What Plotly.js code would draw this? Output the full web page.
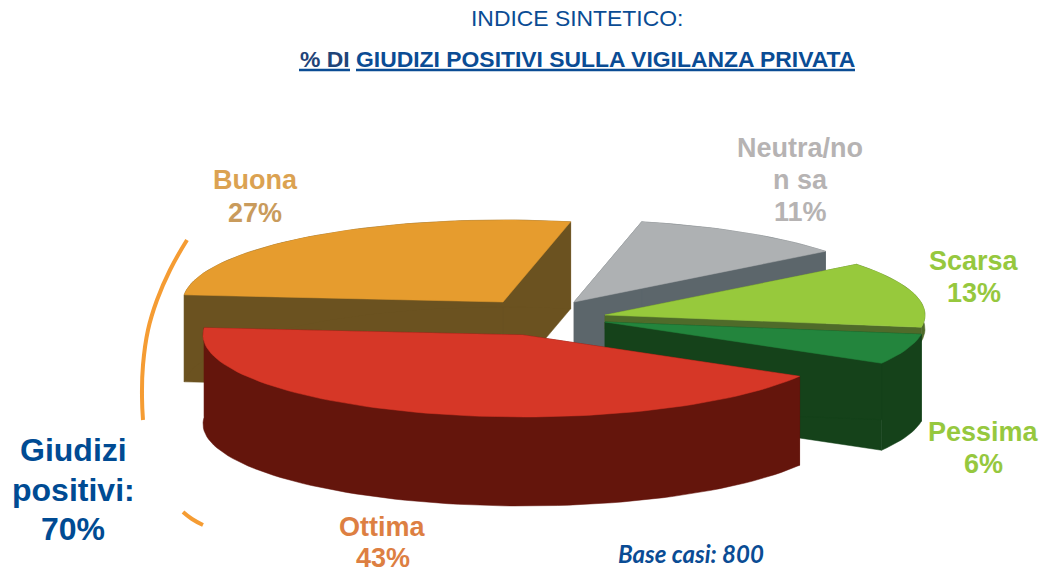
<!DOCTYPE html>
<html><head><meta charset="utf-8">
<script src="https://cdn.plot.ly/plotly-3.0.1.min.js"></script>
<style>html,body{margin:0;padding:0;background:#fff}#c{width:1050px;height:568px}</style>
</head><body><div id="c"></div>
<script>
// Data, in reading order around the pie
const categories = ['Ottima','Pessima','Scarsa','Neutra/non sa','Buona'];
const values     = [43, 6, 13, 11, 27];

// Styles
const topColors  = ['#d63727','#23853d','#97c93c','#aeb1b3','#e69c2e'];
const sideColors = ['#64150c','#15421a','#4f6b2a','#5c666b','#6b5220'];
const drawOrder  = [3, 4, 2, 1, 0];

// Exploded tip of each slice, on pixel-scaled hidden axes
const tipX = [523, 605, 605, 574, 503];
const tipY = [335, 322, 315, 302, 302];
const depths = [89, 87, 14, 87, 87];
const radiusX = 320, radiusY = 82, startAngle = 175;

// Each slice starts where the previous one ended
const starts = [];
values.reduce((acc, v, i) => { starts[i] = acc; return acc + v * 3.6; }, startAngle);

function arcPoints(i) {
  const pts = [], a0 = starts[i], sweep = values[i] * 3.6, n = Math.ceil(sweep / 2);
  for (let k = 0; k <= n; k++) {
    const a = (a0 + sweep * k / n) * Math.PI / 180;
    pts.push([tipX[i] + radiusX * Math.cos(a), tipY[i] - radiusY * Math.sin(a)]);
  }
  return pts;
}

const traces = [];
function addPoly(pts, color, name) {
  const closed = pts.concat([pts[0]]);
  traces.push({type:'scatter', mode:'lines', x:closed.map(p=>p[0]), y:closed.map(p=>p[1]), fill:'toself',
    fillcolor:color, line:{color:color, width:0.5}, hoverinfo:'skip', showlegend:false, name:name});
}
drawOrder.forEach(i => {
  const arc = arcPoints(i), tip = [tipX[i], tipY[i]];
  const first = arc[0], last = arc[arc.length - 1];
  const down = p => [p[0], p[1] + depths[i]];
  addPoly([tip, first, down(first), down(tip)], sideColors[i], categories[i]);
  addPoly([tip, last, down(last), down(tip)], sideColors[i], categories[i]);
  addPoly(arc.concat(arc.slice().reverse().map(down)), sideColors[i], categories[i]);
  addPoly([tip].concat(arc), topColors[i], categories[i]);
});

// Orange bracket around the positive share
const bracketColor = '#f59c33';
[[[187,240],[170,270],[157,300],[148,330],[143,365],[142,397],[143,420]],
 [[183,512],[192,519],[203,525]]].forEach(seg => {
  traces.push({type:'scatter', mode:'lines', x:seg.map(p=>p[0]), y:seg.map(p=>p[1]),
    line:{color:bracketColor, width:4, shape:'spline', smoothing:1.3}, hoverinfo:'skip', showlegend:false});
});

const sans = 'Liberation Sans, Arial, sans-serif';
function label(text, x, y, size, color, family) {
  return {xref:'x', yref:'y', x:x, y:y, text:text, showarrow:false, xanchor:'center', yanchor:'middle',
    font:{family:family||sans, size:size, color:color}};
}
const navy = '#0a4c94';
const annotations = [
  label('INDICE SINTETICO:', 577, 18, 22.9, navy),
  label('<b>% DI</b>', 324.5, 59, 22.9, '#1f4478'),
  label('<b>GIUDIZI POSITIVI SULLA VIGILANZA PRIVATA</b>', 605.5, 59, 22.9, navy),
  label('<b>Buona</b>', 255, 180, 27, '#dba251'),
  label('<b>27%</b>', 255, 213, 27, '#c99b5c'),
  label('<b>Neutra/no</b>', 800, 148, 27, '#b6b3b3'),
  label('<b>n sa</b>', 800, 180, 27, '#b6b3b3'),
  label('<b>11%</b>', 800, 212, 27, '#b6b3b3'),
  label('<b>Scarsa</b>', 974, 261, 27, '#96c83e'),
  label('<b>13%</b>', 974, 293, 27, '#96c83e'),
  label('<b>Pessima</b>', 983, 432, 27, '#96c83e'),
  label('<b>6%</b>', 983, 464, 27, '#96c83e'),
  label('<b>Ottima</b>', 382, 527, 27, '#dd7f42'),
  label('<b>43%</b>', 383, 558, 27, '#dd7f42'),
  label('<b>Giudizi</b>', 73, 450, 32, '#004b93'),
  label('<b>positivi:</b>', 73, 490, 32, '#004b93'),
  label('<b>70%</b>', 73, 529, 32, '#004b93'),
  label('<b><i>Base casi: 800</i></b>', 691, 553.5, 24, navy, 'Lato, sans-serif')
];
const underline = (x0, x1, color) => ({type:'line', xref:'x', yref:'y', x0:x0, x1:x1, y0:70, y1:70,
  line:{color:color, width:2.5}});

Plotly.newPlot('c', traces, {
  width:1050, height:568, margin:{l:0,r:0,t:0,b:0},
  paper_bgcolor:'#ffffff', plot_bgcolor:'#ffffff',
  xaxis:{range:[0,1050], visible:false, fixedrange:true},
  yaxis:{range:[568,0], visible:false, fixedrange:true},
  annotations:annotations, showlegend:false,
  shapes:[underline(299,350,navy), underline(356,855,navy)]
}, {displayModeBar:false, staticPlot:true});
</script></body></html>
